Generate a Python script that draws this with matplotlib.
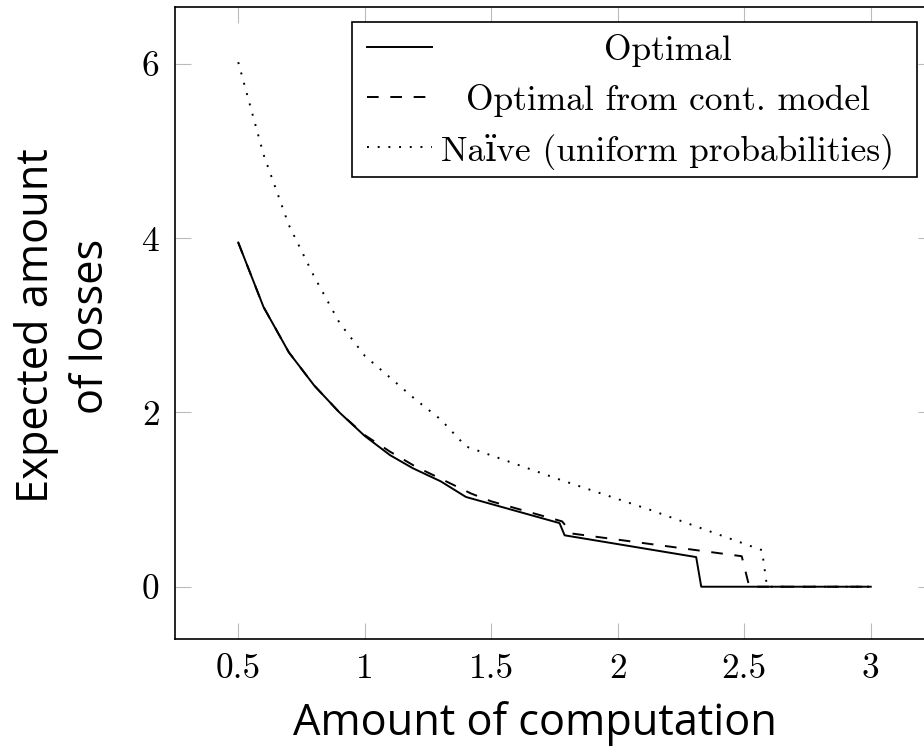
import matplotlib
matplotlib.use('Agg')
import matplotlib.pyplot as plt
from matplotlib.lines import Line2D
from matplotlib.patches import Rectangle

# ---- data ----
x_opt = [0.5, 0.6, 0.7, 0.8, 0.9, 1.0, 1.1, 1.19, 1.3, 1.4, 1.77, 1.79, 2.31, 2.33, 3.0]
y_opt = [3.95, 3.21, 2.69, 2.31, 2.0, 1.73, 1.51, 1.36, 1.21, 1.03, 0.73, 0.59, 0.34, 0.0, 0.0]

x_cont = [0.5, 0.6, 0.7, 0.8, 0.9, 1.0, 1.1, 1.2, 1.3, 1.42, 1.5, 1.78, 1.82, 2.49, 2.52, 3.0]
y_cont = [3.95, 3.21, 2.69, 2.31, 2.0, 1.74, 1.55, 1.38, 1.24, 1.07, 0.98, 0.75, 0.61, 0.35, 0.0, 0.0]

x_naive = [0.5, 0.6, 0.7, 0.8, 0.9, 1.0, 1.1, 1.2, 1.3, 1.4, 1.78, 2.13, 2.57, 2.59, 3.0]
y_naive = [6.02, 4.96, 4.15, 3.56, 3.03, 2.65, 2.40, 2.15, 1.92, 1.61, 1.22, 0.88, 0.42, 0.0, 0.0]

series_labels = ["Optimal", "Optimal from cont. model", "Naïve (uniform probabilities)"]
x_ticks = [0.5, 1, 1.5, 2, 2.5, 3]
x_tick_labels = ["0.5", "1", "1.5", "2", "2.5", "3"]
y_ticks = [0, 2, 4, 6]
y_tick_labels = ["0", "2", "4", "6"]
x_label = "Amount of computation"
y_label = "Expected amount\nof losses"

# ---- figure ----
W, H = 924, 747
fig = plt.figure(figsize=(W / 100, H / 100), dpi=100)

def fx(px):
    return px / W

def fy(py):
    return 1 - py / H

ax_left, ax_right, ax_top, ax_bottom = 175, 934, 7.3, 639
ax = fig.add_axes([fx(ax_left), fy(ax_bottom), (ax_right - ax_left) / W, (ax_bottom - ax_top) / H])

lw = 1.4
styles = [dict(linestyle='-'), dict(linestyle=(0, (6, 6))), dict(linestyle=(0, (1, 4.5)))]
ax.plot(x_opt, y_opt, color='black', lw=lw, **styles[0])
ax.plot(x_cont, y_cont, color='black', lw=lw, **styles[1])
ax.plot(x_naive, y_naive, color='black', lw=lw, **styles[2])

ax.set_xlim(0.25, 3.25)
ax.set_ylim(-0.6, 6.65)

cm = ['cmr10', 'DejaVu Serif']
ax.set_xticks(x_ticks)
ax.set_xticklabels(x_tick_labels, family=cm, fontsize=25.5)
ax.set_yticks(y_ticks)
ax.set_yticklabels(y_tick_labels, family=cm, fontsize=25.5)
ax.tick_params(direction='in', length=11.5, width=0.8, color='#bbbbbb',
               top=True, right=True, pad=10)
ax.tick_params(axis='y', pad=11)
for s in ax.spines.values():
    s.set_linewidth(1.2)

# axis labels
fig.text(fx(535), fy(735), x_label, family='Open Sans', fontsize=31.2,
         ha='center', va='baseline')
fig.text(fx(64), fy(326), y_label, family='Open Sans', fontsize=31.2,
         ha='center', va='center', rotation=90, multialignment='center',
         linespacing=1.33)

# legend (pgfplots style: centered entries)
bx0, bx1, by0, by1 = 352, 917, 22, 177
fig.add_artist(Rectangle((fx(bx0), fy(by1)), (bx1 - bx0) / W, (by1 - by0) / H,
                         transform=fig.transFigure, facecolor='white',
                         edgecolor='black', lw=1.2, zorder=5))
rows_y = [47, 97, 147]
for lab, st, ry in zip(series_labels, styles, rows_y):
    fig.add_artist(Line2D([fx(367), fx(432)], [fy(ry), fy(ry)], transform=fig.transFigure,
                          color='black', lw=lw, zorder=6, **st))
    fig.text(fx(668), fy(ry), lab, family=cm, fontsize=25.5, ha='center',
             va='center_baseline', zorder=7)

fig.savefig('out.png', dpi=100)
